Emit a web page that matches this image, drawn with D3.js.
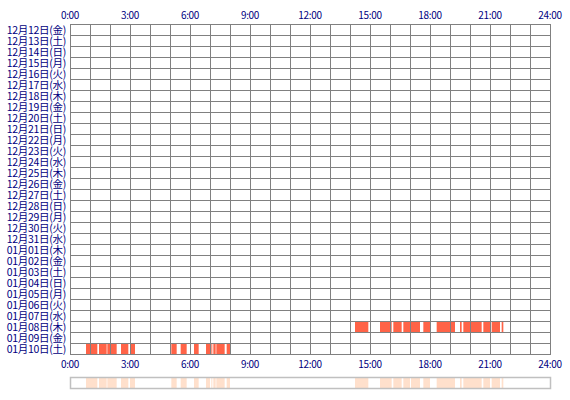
<!DOCTYPE html>
<html>
<head>
<meta charset="utf-8">
<script src="https://cdn.jsdelivr.net/npm/d3@7"></script>
<style>
  body { margin: 0; background: #fff; }
  svg text { font-family: "Noto Sans CJK JP", "DejaVu Sans", sans-serif; fill: #000080; }
</style>
</head>
<body>
<svg id="chart" width="570" height="400"></svg>
<script>
// Row categories (days)
const days = [
  "12月12日(金)","12月13日(土)","12月14日(日)","12月15日(月)","12月16日(火)",
  "12月17日(水)","12月18日(木)","12月19日(金)","12月20日(土)","12月21日(日)",
  "12月22日(月)","12月23日(火)","12月24日(水)","12月25日(木)","12月26日(金)",
  "12月27日(土)","12月28日(日)","12月29日(月)","12月30日(火)","12月31日(水)",
  "01月01日(木)","01月02日(金)","01月03日(土)","01月04日(日)","01月05日(月)",
  "01月06日(火)","01月07日(水)","01月08日(木)","01月09日(金)","01月10日(土)"
];
// Time axis tick labels (every 3 hours)
const hourTicks = ["0:00","3:00","6:00","9:00","12:00","15:00","18:00","21:00","24:00"];

// Activity segments per day [start, end]
const jan08 = [
  ["14:15","14:55"],["15:30","16:05"],["16:10","16:35"],["16:40","17:00"],
  ["17:03","17:30"],["17:40","18:00"],["18:20","19:15"],["19:30","19:35"],
  ["19:40","20:35"],["20:40","21:00"],["21:05","21:30"],["21:35","21:40"]
];
const jan10 = [
  ["0:48","1:22"],["1:27","1:50"],["1:52","2:20"],["2:33","2:55"],["3:00","3:15"],
  ["5:04","5:20"],["5:32","5:50"],["6:12","6:26"],["6:48","7:00"],["7:04","7:07"],
  ["7:10","7:17"],["7:19","7:44"],["7:50","8:00"]
];

const toMin = s => { const [h, m] = s.split(":").map(Number); return h * 60 + m; };

const segments = [
  ...jan08.map(d => ({ day: "01月08日(木)", s: toMin(d[0]), e: toMin(d[1]) })),
  ...jan10.map(d => ({ day: "01月10日(土)", s: toMin(d[0]), e: toMin(d[1]) }))
];

const svg = d3.select("#chart");
const gLeft = 70, gRight = 550, gTop = 24, gBottom = 354;

const x = d3.scaleLinear().domain([0, 1440]).range([gLeft, gRight]);
const y = d3.scaleBand().domain(days).range([gTop, gBottom]);

// bars
svg.append("g").selectAll("rect").data(segments).join("rect")
  .attr("x", d => x(d.s))
  .attr("width", d => x(d.e) - x(d.s))
  .attr("y", d => y(d.day))
  .attr("height", y.bandwidth())
  .attr("fill", "#ff6347");

// grid
const grid = svg.append("g").attr("stroke", "#808080").attr("stroke-width", 1).attr("shape-rendering", "crispEdges");
grid.selectAll("line.v").data(d3.range(0, 1441, 60)).join("line")
  .attr("class", "v")
  .attr("x1", d => Math.round(x(d)) + 0.5).attr("x2", d => Math.round(x(d)) + 0.5)
  .attr("y1", gTop).attr("y2", gBottom + 1);
grid.selectAll("line.h").data(d3.range(days.length + 1)).join("line")
  .attr("class", "h")
  .attr("x1", gLeft).attr("x2", gRight + 1)
  .attr("y1", d => Math.round(gTop + d * y.step()) + 0.5)
  .attr("y2", d => Math.round(gTop + d * y.step()) + 0.5);

// day labels
svg.append("g").selectAll("text").data(days).join("text")
  .attr("x", gLeft - 4)
  .attr("y", d => y(d) + y.bandwidth() / 2 + 4)
  .attr("text-anchor", "end")
  .attr("font-size", 10.5)
  .attr("letter-spacing", -0.3)
  .text(d => d);

// time labels top and bottom
const tickMin = hourTicks.map(toMin);
[15, 364].forEach(ty => {
  svg.append("g").selectAll("text").data(hourTicks).join("text")
    .attr("x", (d, i) => x(tickMin[i]))
    .attr("y", ty + 4)
    .attr("text-anchor", "middle")
    .attr("font-size", 10)
    .attr("letter-spacing", -0.3)
    .text(d => d);
});

// summary strip
const stripTop = 377, stripBottom = 388;
svg.append("g").selectAll("rect").data(segments).join("rect")
  .attr("x", d => x(d.s))
  .attr("width", d => x(d.e) - x(d.s))
  .attr("y", stripTop)
  .attr("height", stripBottom - stripTop)
  .attr("fill", "#ffe0cc");
svg.append("rect")
  .attr("x", gLeft + 0.5).attr("y", stripTop + 0.5)
  .attr("width", gRight - gLeft).attr("height", stripBottom - stripTop)
  .attr("fill", "none").attr("stroke", "#c0c0c0").attr("stroke-width", 1.5);
</script>
</body>
</html>
